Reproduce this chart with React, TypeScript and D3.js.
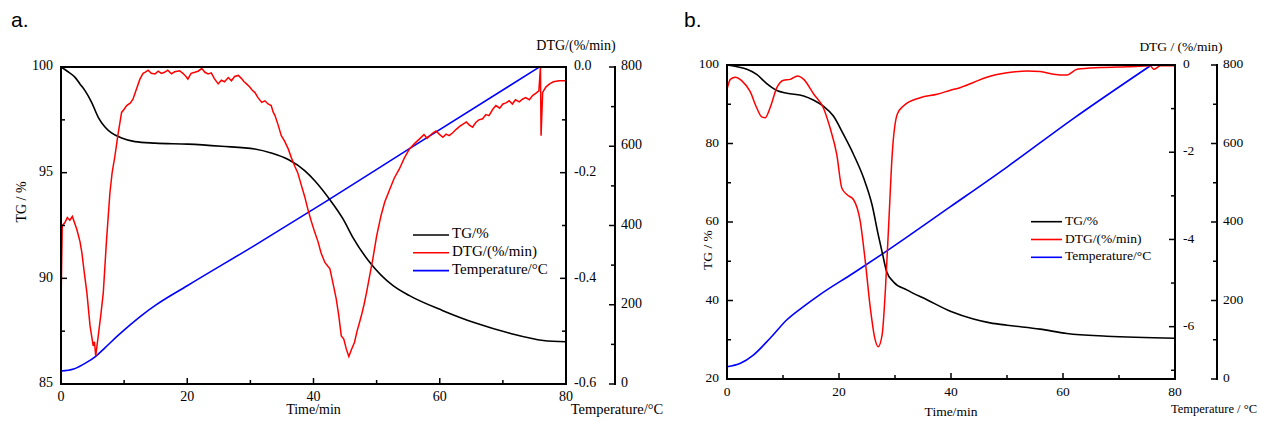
import React from "react";
import * as d3 from "d3";

// ---- panel a data: [time(min), value] ----
const tgA: [number, number][] = [
  [0, 100], [1, 99.8], [2.2, 99.52], [3, 99.2], [3.8, 98.88], [4.85, 98.33], [5.9, 97.62], [7, 97.15],
  [8, 96.88], [9.6, 96.64], [11.7, 96.47], [14.9, 96.4], [20.1, 96.35], [25.4, 96.25], [30.7, 96.12],
  [33.3, 95.93], [36, 95.62], [38.6, 95.1], [40.2, 94.62], [42.6, 93.72], [44.7, 92.8], [46.3, 91.9],
  [48.9, 90.76], [52.6, 89.65], [55.2, 89.18], [60.5, 88.47], [65.8, 87.87], [71.1, 87.4], [76.4, 87.06],
  [80, 87.0],
];

const dtgA: [number, number][] = [
  [0, -0.452], [0.2, -0.3], [0.6, -0.295], [1.0, -0.285], [1.4, -0.29], [1.8, -0.283], [2.5, -0.307],
  [3.0, -0.33], [3.3, -0.351], [3.7, -0.39], [4.1, -0.427], [4.6, -0.49], [5.1, -0.528], [5.3, -0.52],
  [5.5, -0.547], [5.9, -0.509], [6.3, -0.47], [6.7, -0.427], [7.2, -0.33], [7.75, -0.238], [8.1, -0.2],
  [8.55, -0.168], [9.0, -0.13], [9.6, -0.086], [10.0, -0.08], [10.4, -0.073], [11.0, -0.068], [11.4, -0.061],
  [12.0, -0.04], [12.5, -0.023], [13.0, -0.012], [13.3, -0.01], [13.8, -0.006], [14.3, -0.012], [14.9, -0.013],
  [15.4, -0.008], [15.9, -0.012], [16.4, -0.01], [16.9, -0.006], [17.5, -0.013], [18.0, -0.009], [18.8, -0.007],
  [19.3, -0.012], [19.8, -0.018], [20.1, -0.023], [20.6, -0.012], [21.2, -0.01], [21.7, -0.008], [22.3, -0.003],
  [22.8, -0.01], [23.3, -0.013], [23.8, -0.011], [24.3, -0.022], [24.9, -0.032], [25.4, -0.025], [25.9, -0.028],
  [26.5, -0.02], [27.0, -0.026], [27.5, -0.018], [28.1, -0.016], [28.6, -0.022], [29.0, -0.028], [29.4, -0.032],
  [29.9, -0.038], [30.3, -0.044], [30.7, -0.048], [31.2, -0.058], [31.8, -0.067], [32.3, -0.064], [32.8, -0.07],
  [33.3, -0.073], [33.6, -0.085], [33.9, -0.092], [34.4, -0.11], [34.9, -0.13], [35.4, -0.14], [36.0, -0.155],
  [36.5, -0.172], [37.0, -0.187], [37.5, -0.2], [38.1, -0.225], [38.6, -0.245], [39.1, -0.269], [39.6, -0.29],
  [40.2, -0.313], [40.7, -0.33], [41.2, -0.352], [41.8, -0.37], [42.6, -0.382], [43.1, -0.41], [43.6, -0.439],
  [44.0, -0.47], [44.4, -0.509], [44.8, -0.515], [45.2, -0.534], [45.6, -0.548], [46.0, -0.535], [46.5, -0.521],
  [46.9, -0.5], [47.3, -0.483], [47.6, -0.47], [48.0, -0.45], [48.4, -0.427], [48.9, -0.395], [49.4, -0.363],
  [50.0, -0.32], [50.7, -0.281], [51.3, -0.255], [52.1, -0.231], [52.8, -0.21], [53.6, -0.193], [54.4, -0.172],
  [55.2, -0.155], [56.0, -0.145], [56.8, -0.136], [57.5, -0.128], [58.0, -0.135], [58.4, -0.13], [59.0, -0.124],
  [59.4, -0.121], [60.0, -0.128], [60.5, -0.133], [61.0, -0.127], [61.5, -0.13], [62.1, -0.124], [62.6, -0.118],
  [63.2, -0.112], [63.7, -0.108], [64.2, -0.104], [64.7, -0.11], [65.2, -0.114], [65.7, -0.105], [66.2, -0.1],
  [66.8, -0.098], [67.3, -0.09], [67.8, -0.092], [68.4, -0.08], [68.9, -0.073], [69.5, -0.078], [70.0, -0.07],
  [70.5, -0.068], [71.0, -0.064], [71.5, -0.07], [72.0, -0.062], [72.6, -0.066], [73.1, -0.061], [73.6, -0.058],
  [74.2, -0.062], [74.7, -0.054], [75.2, -0.05], [75.7, -0.045], [75.95, -0.001], [76.05, -0.13], [76.3, -0.048],
  [76.8, -0.038], [77.4, -0.032], [78.0, -0.028], [78.9, -0.026], [80, -0.026],
];

const tempA: [number, number][] = [
  [0, 33], [2, 38], [4, 54], [5.5, 70], [7, 92], [9, 122], [11, 150], [13, 176], [15, 199], [20, 248],
  [30.7, 350], [41.8, 459], [55.2, 594], [75.8, 800],
];

// ---- panel b data ----
const tgB: [number, number][] = [
  [0, 100], [2, 99.5], [3.55, 98.9], [5.3, 97.6], [7.1, 95.25], [8.9, 93.5], [10.7, 92.8], [13.7, 92.1],
  [15.5, 91.0], [17.2, 89.5], [19.0, 87.0], [20.8, 82.3], [22.6, 77.2], [24.4, 71.2], [25.9, 64.4], [27.0, 56.8],
  [27.8, 51.7], [28.5, 47.4], [29.7, 44.8], [32.1, 42.7], [35.7, 40.2], [40, 37.2], [44, 35.3], [47, 34.3],
  [50, 33.7], [55.9, 32.7], [60.7, 31.6], [67.8, 30.9], [80, 30.4],
];

const dtgB: [number, number][] = [
  [0, -0.56], [0.6, -0.33], [1.5, -0.28], [2.7, -0.37], [4.1, -0.6], [5.3, -0.98], [6.2, -1.19], [6.8, -1.21],
  [7.7, -0.98], [8.9, -0.52], [10.1, -0.35], [11.3, -0.33], [12.6, -0.25], [13.7, -0.33], [15.5, -0.67],
  [17.2, -0.98], [18.4, -1.44], [19.6, -2.05], [20.5, -2.82], [21.4, -2.97], [22.6, -3.09], [23.8, -3.59],
  [24.7, -4.51], [25.6, -5.58], [26.4, -6.27], [27.0, -6.46], [27.7, -6.19], [28.3, -5.12], [28.9, -3.59],
  [29.5, -2.05], [30.4, -1.13], [31.5, -0.94], [34.5, -0.75], [37.5, -0.67], [39.9, -0.58], [41.6, -0.52],
  [44.0, -0.4], [46.4, -0.28], [50.0, -0.18], [53.6, -0.14], [55.9, -0.15], [58.3, -0.21], [60.7, -0.23],
  [62.5, -0.1], [66.7, -0.06], [71.4, -0.04], [75.6, -0.02], [76.2, -0.1], [77.4, -0.02], [80, -0.02],
];

const tempB: [number, number][] = [
  [0, 31], [2.4, 40], [4.7, 61], [7.7, 104], [10.7, 151], [13.7, 185], [16.6, 215], [22.6, 270], [27.9, 320],
  [39.9, 439], [50, 540], [61.9, 664], [75.8, 800],
];

// ---- ticks ----
const timeTicks = [0, 20, 40, 60, 80];
const timeMinor = [10, 30, 50, 70];
const tempTicks = [0, 200, 400, 600, 800];
const tempMinor = [100, 300, 500, 700];
const tgTicksA = [85, 90, 95, 100];
const tgMinorA = [87.5, 92.5, 97.5];
const dtgTicksA = [0, -0.2, -0.4, -0.6];
const dtgMinorA = [-0.1, -0.3, -0.5];
const tgTicksB = [20, 40, 60, 80, 100];
const tgMinorB = [30, 50, 70, 90];
const dtgTicksB = [0, -2, -4, -6];
const dtgMinorB = [-1, -3, -5, -7];

const legendItems = [
  { label: "TG/%", color: "#000000" },
  { label: "DTG/(%/min)", color: "#ff0000" },
  { label: "Temperature/°C", color: "#0000ff" },
];

const SERIF = "'Liberation Serif', 'Times New Roman', serif";

type PanelProps = {
  tag: string;
  tagX: number;
  tgData: [number, number][];
  dtgData: [number, number][];
  tempData: [number, number][];
  left: number; right: number; top: number; bottom: number; tempAxisX: number;
  tgDomain: [number, number]; dtgDomain: [number, number];
  tgTicks: number[]; tgMinor: number[]; dtgTicks: number[]; dtgMinor: number[];
  dtgFmt: (v: number) => string;
  fs: number;
  dtgTitle: string; tempTitle: string; tempTitleX: number; tempTitleFs: number;
  tgTitleX: number; tgTitleY: number;
  timeTitleY: number; dtgTitleX: number; dtgTitleY: number; tempTitleY: number;
  legendX: number; legendY: number; legendFs: number; legendLen: number; legendGap: number;
  dtgCurve: any;
};

const Panel = (p: PanelProps) => {
  const x = d3.scaleLinear().domain([0, 80]).range([p.left, p.right]);
  const yTG = d3.scaleLinear().domain(p.tgDomain).range([p.bottom, p.top]);
  const yDTG = d3.scaleLinear().domain(p.dtgDomain).range([p.bottom, p.top]);
  const yT = d3.scaleLinear().domain([0, 800]).range([p.bottom, p.top]);

  const tgLine = d3.line<[number, number]>().x(d => x(d[0])).y(d => yTG(d[1])).curve(d3.curveMonotoneX);
  const dtgLine = d3.line<[number, number]>().x(d => x(d[0])).y(d => yDTG(d[1])).curve(p.dtgCurve);
  const tLine = d3.line<[number, number]>().x(d => x(d[0])).y(d => yT(d[1])).curve(d3.curveMonotoneX);

  const ax = { stroke: "#000", strokeWidth: 2 };
  const tk = { stroke: "#000", strokeWidth: 1.5 };

  return (
    <g fontFamily={SERIF} fill="#000">
      <text x={p.tagX} y={27} fontFamily="'Liberation Sans', Arial, sans-serif" fontSize={21}>{p.tag}</text>

      {/* data */}
      <path d={tLine(p.tempData) || ""} fill="none" stroke="#0000ff" strokeWidth={1.6} />
      <path d={tgLine(p.tgData) || ""} fill="none" stroke="#000" strokeWidth={1.6} />
      <path d={dtgLine(p.dtgData) || ""} fill="none" stroke="#ff0000" strokeWidth={1.5} />

      {/* frame */}
      <line x1={p.left} x2={p.right} y1={p.top} y2={p.top} {...ax} />
      <line x1={p.left} x2={p.right} y1={p.bottom} y2={p.bottom} {...ax} />
      <line x1={p.left} x2={p.left} y1={p.top - 1} y2={p.bottom + 1} {...ax} />
      <line x1={p.right} x2={p.right} y1={p.top - 1} y2={p.bottom + 1} {...ax} />
      <line x1={p.tempAxisX} x2={p.tempAxisX} y1={p.top - 1} y2={p.bottom + 1} {...ax} />

      {/* time axis */}
      {timeTicks.map(t => (
        <g key={"xt" + t}>
          <line x1={x(t)} x2={x(t)} y1={p.bottom} y2={p.bottom - 6} {...tk} />
          <text x={x(t)} y={p.bottom + 14} textAnchor="middle" dominantBaseline="middle" fontSize={p.fs}>{t}</text>
        </g>
      ))}
      {timeMinor.map(t => (
        <line key={"xm" + t} x1={x(t)} x2={x(t)} y1={p.bottom} y2={p.bottom - 4} {...tk} />
      ))}
      <text x={(p.left + p.right) / 2} y={p.timeTitleY} textAnchor="middle" dominantBaseline="middle" fontSize={p.fs}>Time/min</text>

      {/* TG axis */}
      {p.tgTicks.map(v => (
        <g key={"tg" + v}>
          <line x1={p.left} x2={p.left + 6} y1={yTG(v)} y2={yTG(v)} {...tk} />
          <text x={p.left - 8} y={yTG(v)} textAnchor="end" dominantBaseline="middle" fontSize={p.fs}>{v}</text>
        </g>
      ))}
      {p.tgMinor.map(v => (
        <line key={"tgm" + v} x1={p.left} x2={p.left + 4} y1={yTG(v)} y2={yTG(v)} {...tk} />
      ))}
      <text transform={`translate(${p.tgTitleX},${p.tgTitleY}) rotate(-90)`} textAnchor="middle" dominantBaseline="middle" fontSize={p.fs}>TG / %</text>

      {/* DTG axis */}
      {p.dtgTicks.map(v => (
        <g key={"dt" + v}>
          <line x1={p.right} x2={p.right - 6} y1={yDTG(v)} y2={yDTG(v)} {...tk} />
          <text x={p.right + 8} y={yDTG(v)} dominantBaseline="middle" fontSize={p.fs}>{p.dtgFmt(v)}</text>
        </g>
      ))}
      {p.dtgMinor.map(v => (
        <line key={"dtm" + v} x1={p.right} x2={p.right - 4} y1={yDTG(v)} y2={yDTG(v)} {...tk} />
      ))}
      <text x={p.dtgTitleX} y={p.dtgTitleY} textAnchor="middle" dominantBaseline="middle" fontSize={p.fs}>{p.dtgTitle}</text>

      {/* temperature axis */}
      {tempTicks.map(v => (
        <g key={"tt" + v}>
          <line x1={p.tempAxisX} x2={p.tempAxisX - 6} y1={yT(v)} y2={yT(v)} {...tk} />
          <text x={p.tempAxisX + 6} y={yT(v)} dominantBaseline="middle" fontSize={p.fs}>{v}</text>
        </g>
      ))}
      {tempMinor.map(v => (
        <line key={"tm" + v} x1={p.tempAxisX} x2={p.tempAxisX - 4} y1={yT(v)} y2={yT(v)} {...tk} />
      ))}
      <text x={p.tempTitleX} y={p.tempTitleY} textAnchor="middle" dominantBaseline="middle" fontSize={p.tempTitleFs}>{p.tempTitle}</text>

      {/* legend */}
      {legendItems.map((it, i) => (
        <g key={it.label}>
          <line x1={p.legendX} x2={p.legendX + p.legendLen} y1={p.legendY + i * p.legendGap} y2={p.legendY + i * p.legendGap} stroke={it.color} strokeWidth={1.6} />
          <text x={p.legendX + p.legendLen + 3} y={p.legendY + i * p.legendGap} dominantBaseline="middle" fontSize={p.legendFs}>{it.label}</text>
        </g>
      ))}
    </g>
  );
};

export default function App() {
  return (
    <svg width={1261} height={421} style={{ position: "absolute", left: 0, top: 0, background: "#fff" }}>
      <rect x={0} y={0} width={1261} height={421} fill="#fff" />
      <Panel
        tag="a." tagX={11}
        tgData={tgA} dtgData={dtgA} tempData={tempA}
        left={61} right={566} top={67} bottom={384} tempAxisX={615}
        tgDomain={[85, 100]} dtgDomain={[-0.6, 0]}
        tgTicks={tgTicksA} tgMinor={tgMinorA} dtgTicks={dtgTicksA} dtgMinor={dtgMinorA}
        dtgFmt={v => v.toFixed(1)}
        fs={14}
        dtgTitle="DTG/(%/min)" tempTitle="Temperature/°C" tempTitleX={617} tempTitleFs={14.5}
        tgTitleX={23} tgTitleY={202}
        timeTitleY={411} dtgTitleX={576} dtgTitleY={47} tempTitleY={411}
        legendX={413} legendY={235} legendFs={15} legendLen={36} legendGap={17.8}
        dtgCurve={d3.curveLinear}
      />
      <Panel
        tag="b." tagX={684}
        tgData={tgB} dtgData={dtgB} tempData={tempB}
        left={727} right={1175} top={65} bottom={379} tempAxisX={1217}
        tgDomain={[20, 100]} dtgDomain={[-7.2, 0]}
        tgTicks={tgTicksB} tgMinor={tgMinorB} dtgTicks={dtgTicksB} dtgMinor={dtgMinorB}
        dtgFmt={v => String(v)}
        fs={13.5}
        dtgTitle="DTG / (%/min)" tempTitle="Temperature / °C" tempTitleX={1214} tempTitleFs={12.5}
        tgTitleX={709} tgTitleY={250}
        timeTitleY={413} dtgTitleX={1181} dtgTitleY={48} tempTitleY={410}
        legendX={1031} legendY={221.7} legendFs={13.5} legendLen={31} legendGap={17.8}
        dtgCurve={d3.curveMonotoneX}
      />
    </svg>
  );
}
